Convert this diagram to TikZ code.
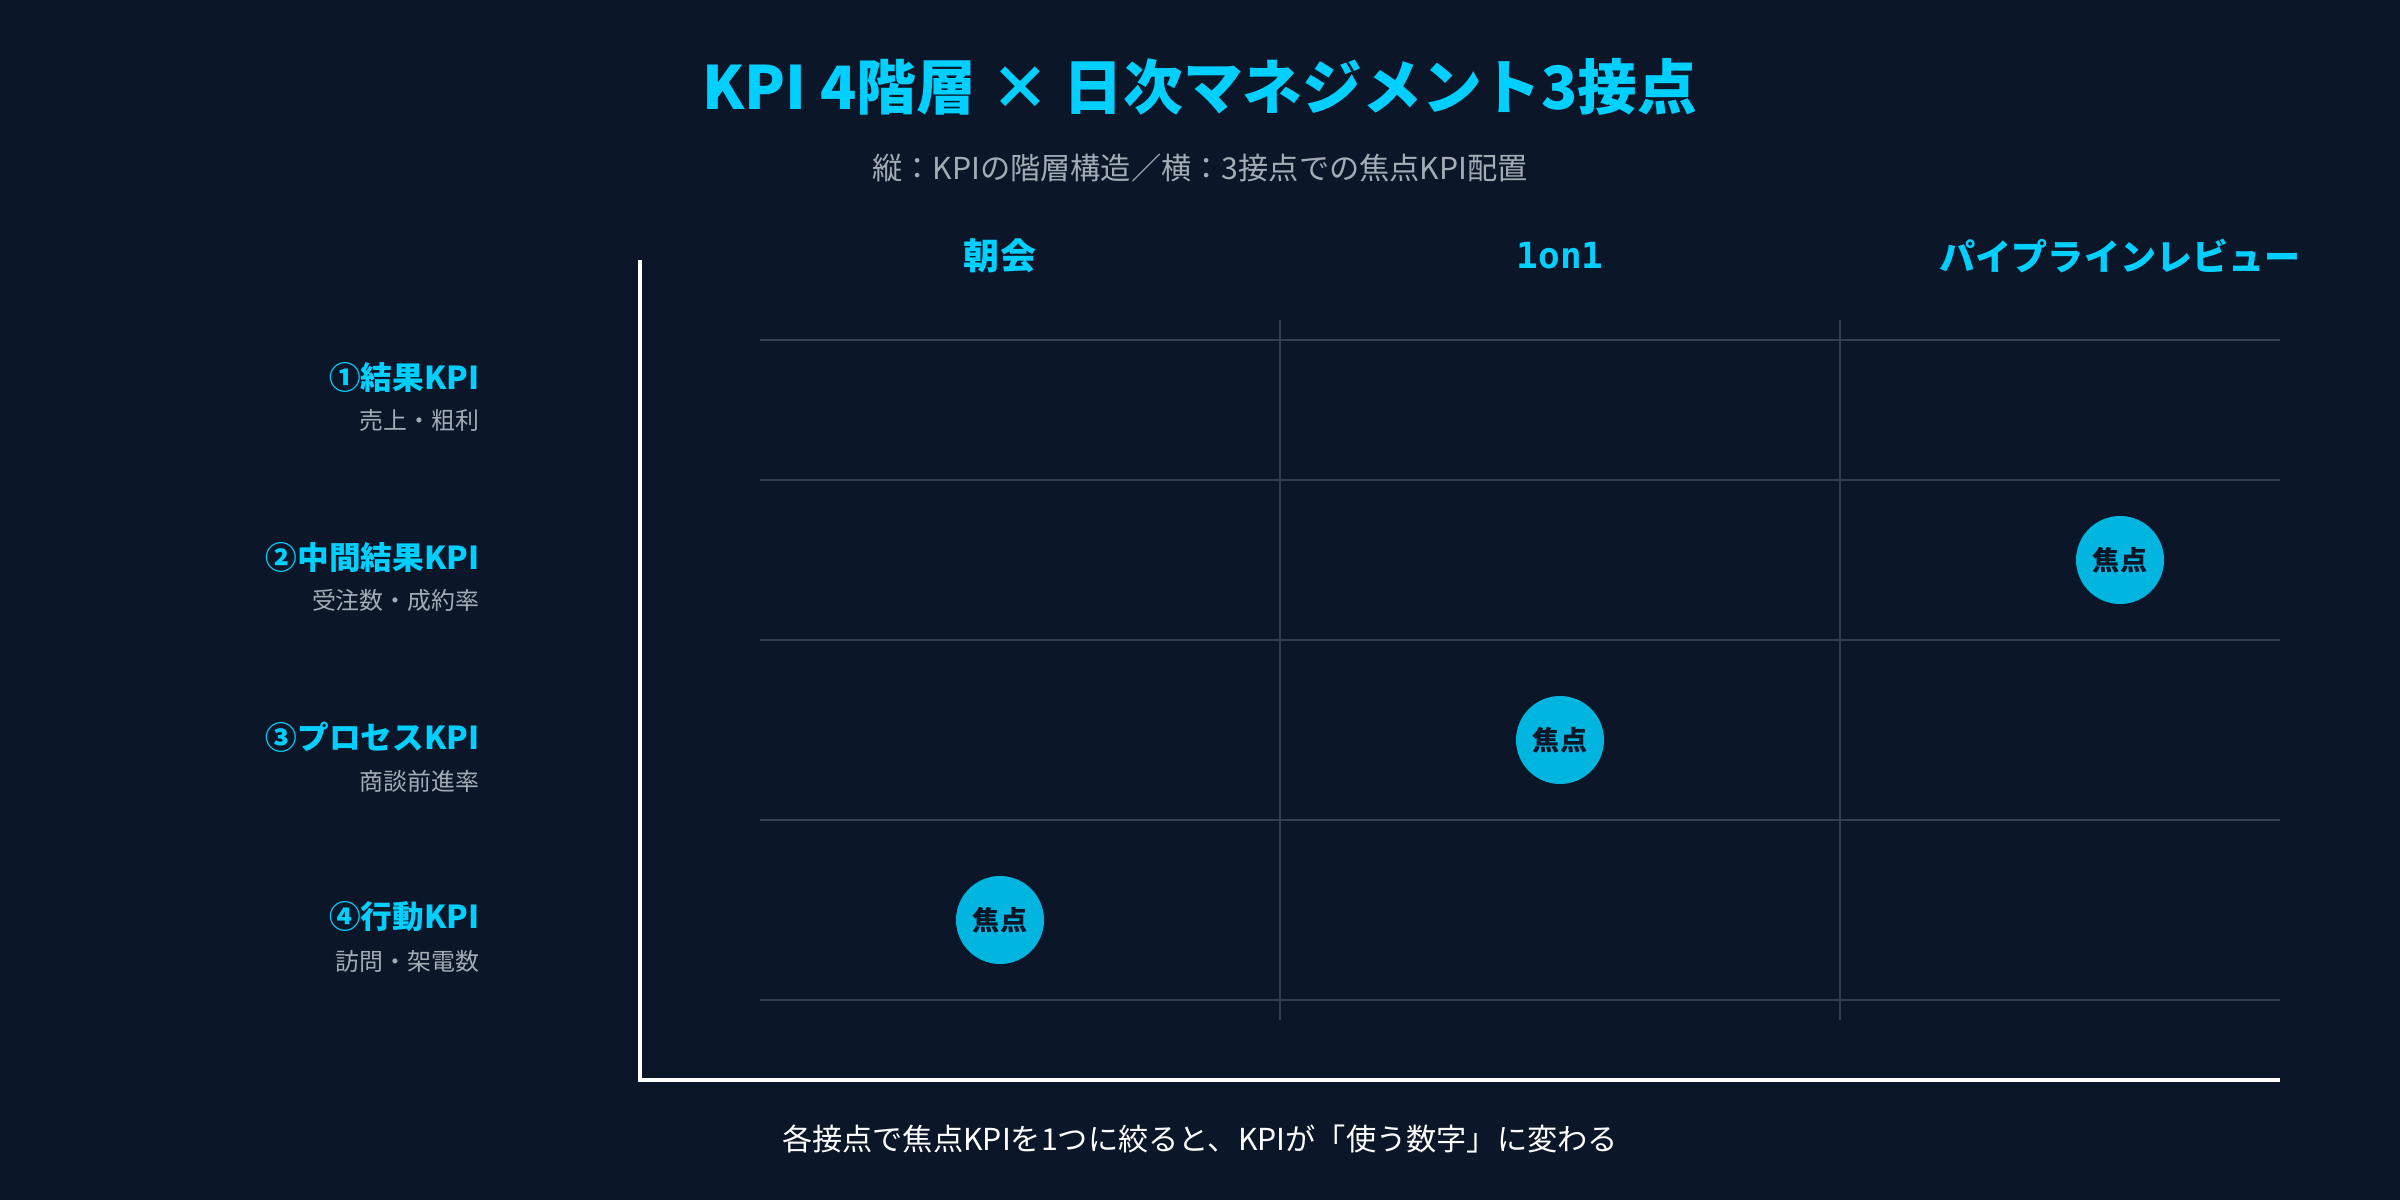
\documentclass[tikz,border=0pt]{standalone}
\usepackage{fontspec}
\setmainfont{Noto Sans CJK JP}
\newfontfamily\monofont{DejaVu Sans Mono}
\usepackage{tikz}
\tikzset{>=latex}
\definecolor{bg}{HTML}{0B1628}
\definecolor{cyanhi}{HTML}{00CFFF}
\definecolor{dot}{HTML}{00B5DF}
\definecolor{grid}{HTML}{343E4D}
\definecolor{sub}{HTML}{A3ABB5}
\tikzset{
  head/.style={text=cyanhi,font=\bfseries\fontsize{10.25pt}{12pt}\selectfont},
  rowlab/.style={text=cyanhi,anchor=east,inner xsep=0pt,font=\bfseries\fontsize{9pt}{11pt}\selectfont},
  rowsub/.style={text=sub,anchor=east,inner xsep=0pt,font=\fontsize{6.8pt}{8pt}\selectfont},
  focus/.style={circle,fill=dot,minimum size=8.8mm,inner sep=0pt,text=bg,font=\bfseries\fontsize{7.7pt}{9pt}\selectfont},
  gridline/.style={draw=grid,line width=0.6pt}
}

\begin{document}
\begin{tikzpicture}[x=0.1mm,y=-0.1mm]
            \fill[bg,use as bounding box] (0,0) rectangle (2400,1200);
            \node (t) at (1200,87){\textcolor{cyanhi}{\bfseries\fontsize{17pt}{20pt}\selectfont KPI 4階層 × 日次マネジメント3接点}};
            \node (s) at (1200,168){\textcolor{sub}{\fontsize{8.6pt}{10pt}\selectfont 縦：KPIの階層構造／横：3接点での焦点KPI配置}};
            \node[head] (c1) at (1000,256){朝会};
            \node[head] (c2) at (1560,256){\monofont\bfseries 1on1};
            \node[head] (c3) at (2120,256){パイプラインレビュー};
            \node[rowlab] (r1) at (480,377){①結果KPI};
            \node[rowsub] (d1) at (480,420){売上・粗利};
            \node[rowlab] (r2) at (480,557){②中間結果KPI};
            \node[rowsub] (d2) at (480,600){受注数・成約率};
            \node[rowlab] (r3) at (480,737){③プロセスKPI};
            \node[rowsub] (d3) at (480,781){商談前進率};
            \node[rowlab] (r4) at (480,917){④行動KPI};
            \node[rowsub] (d4) at (480,961){訪問・架電数};
            % grid
            \draw[gridline] (760,340) -- (2280,340);
            \draw[gridline] (760,480) -- (2280,480);
            \draw[gridline] (760,640) -- (2280,640);
            \draw[gridline] (760,820) -- (2280,820);
            \draw[gridline] (760,1000) -- (2280,1000);
            \draw[gridline,line width=0.4pt] (1280,320) -- (1280,1020);
            \draw[gridline,line width=0.4pt] (1840,320) -- (1840,1020);
            % axes
            \coordinate (top) at (640,260);
            \coordinate (o) at (640,1080);
            \coordinate (end) at (2280,1080);
            \draw[white,line width=0.9pt] (top) -- (o) -- (end);
            \node[focus] (f1) at (2120,560){焦点};
            \node[focus] (f2) at (1560,740){焦点};
            \node[focus] (f3) at (1000,920){焦点};
            \node (n) at (1200,1139){\textcolor{white}{\fontsize{8.6pt}{10pt}\selectfont 各接点で焦点KPIを1つに絞ると、KPIが「使う数字」に変わる}};
        \end{tikzpicture}
\end{document}
